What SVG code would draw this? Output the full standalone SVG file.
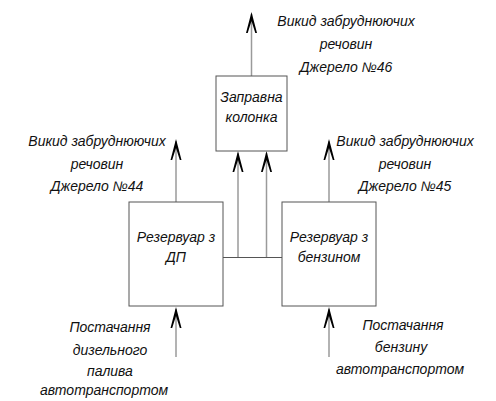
<svg xmlns="http://www.w3.org/2000/svg" width="496" height="401" viewBox="0 0 496 401">
<defs>
<style>
.box{fill:#fff;stroke:#555;stroke-width:1}
.shaft{stroke:#9a9a9a;stroke-width:1.5;fill:none}
.link{stroke:#555;stroke-width:1;fill:none}
.head{fill:#000}
text{font-family:"Liberation Sans",Arial,sans-serif;font-style:italic;font-size:14px;fill:#111;text-anchor:middle}
</style>
<path id="ah" class="head" d="M0,0 L5.5,21 L3.8,21 L0,9 L-3.8,21 L-5.5,21 Z"/>
</defs>
<rect width="496" height="401" fill="#fff"/>
<g id="connectors">
<line class="shaft" x1="251.5" y1="76" x2="251.5" y2="14"/>
<use href="#ah" x="251.5" y="12"/>
<line class="shaft" x1="176" y1="202" x2="176" y2="141"/>
<use href="#ah" x="176" y="139"/>
<line class="shaft" x1="329" y1="202" x2="329" y2="141"/>
<use href="#ah" x="329" y="139"/>
<line class="link" x1="223" y1="257.5" x2="282" y2="257.5"/>
<line class="shaft" x1="238" y1="257" x2="238" y2="153"/>
<use href="#ah" x="238" y="151"/>
<line class="shaft" x1="266.5" y1="257" x2="266.5" y2="153"/>
<use href="#ah" x="266.5" y="151"/>
<line class="shaft" x1="176" y1="357" x2="176" y2="309"/>
<use href="#ah" x="176" y="307"/>
<line class="shaft" x1="329" y1="357" x2="329" y2="309"/>
<use href="#ah" x="329" y="307"/>
</g>
<g id="node-kolonka">
<rect class="box" x="216" y="76" width="71" height="75"/>
<text x="251.5" y="102">Заправна</text>
<text x="251.5" y="122">колонка</text>
</g>
<g id="node-dp">
<rect class="box" x="129" y="202" width="94" height="104"/>
<text x="176" y="242">Резервуар з</text>
<text x="176" y="262">ДП</text>
</g>
<g id="node-benzin">
<rect class="box" x="282" y="202" width="94" height="104"/>
<text x="329" y="242">Резервуар з</text>
<text x="329" y="262">бензином</text>
</g>
<g id="label-46">
<text x="346" y="26">Викид забруднюючих</text>
<text x="346" y="49">речовин</text>
<text x="346" y="72">Джерело №46</text>
</g>
<g id="label-44">
<text x="97" y="146">Викид забруднюючих</text>
<text x="97" y="169">речовин</text>
<text x="97" y="191">Джерело №44</text>
</g>
<g id="label-45">
<text x="405" y="146">Викид забруднюючих</text>
<text x="405" y="169">речовин</text>
<text x="405" y="191">Джерело №45</text>
</g>
<g id="label-supply-dp">
<text x="110" y="332">Постачання</text>
<text x="110" y="355">дизельного</text>
<text x="110" y="376">палива</text>
<text x="104" y="395">автотранспортом</text>
</g>
<g id="label-supply-benzin">
<text x="403" y="330">Постачання</text>
<text x="401" y="352">бензину</text>
<text x="400" y="374">автотранспортом</text>
</g>
</svg>
